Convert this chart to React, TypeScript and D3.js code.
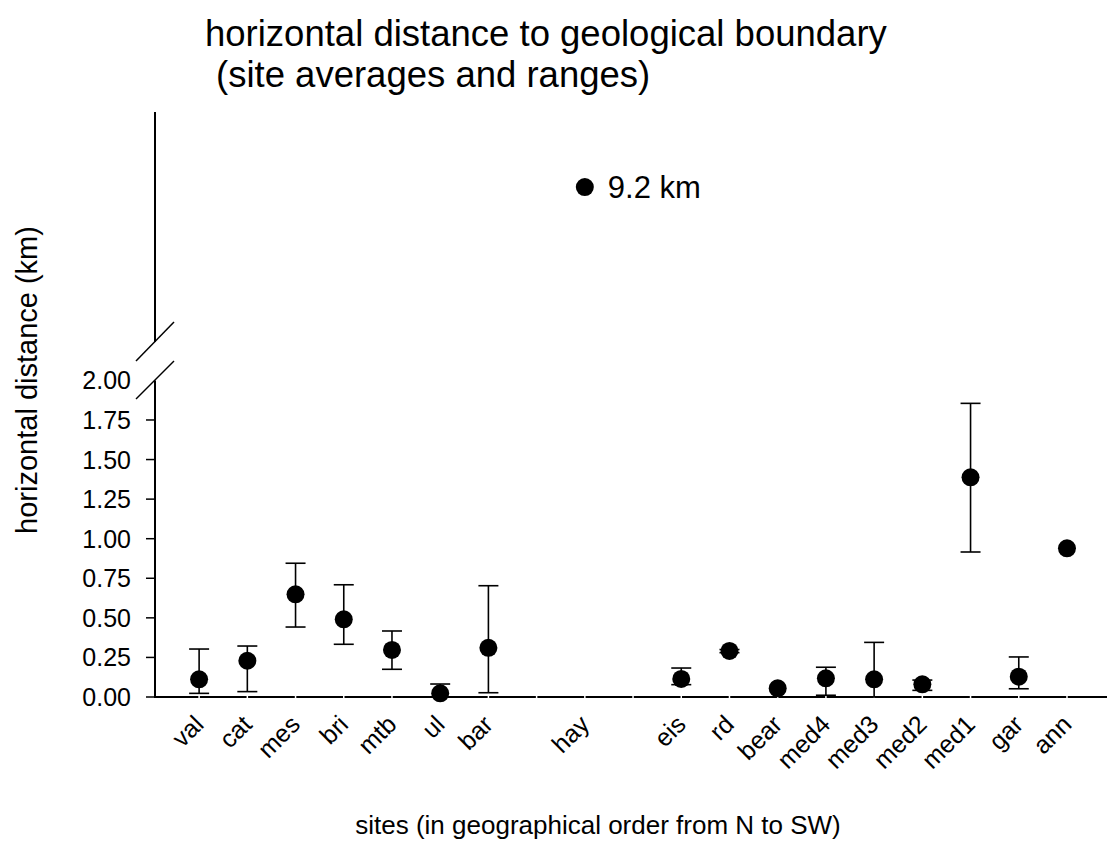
import React from "react";
import * as d3 from "d3";

const sites = ["val", "cat", "mes", "bri", "mtb", "ul", "bar", "", "hay", "", "eis", "rd", "bear", "med4", "med3", "med2", "med1", "gar", "ann"];
const means: (number | null)[] = [0.112, 0.229, 0.649, 0.491, 0.297, 0.023, 0.311, null, 9.2, null, 0.114, 0.291, 0.055, 0.118, 0.112, 0.080, 1.388, 0.128, 0.939];
const lows: (number | null)[] = [0.023, 0.034, 0.442, 0.333, 0.175, 0.0, 0.027, null, null, null, 0.078, 0.28, null, 0.011, 0.0, 0.042, 0.916, 0.052, null];
const highs: (number | null)[] = [0.303, 0.322, 0.845, 0.709, 0.417, 0.082, 0.703, null, null, null, 0.183, 0.30, null, 0.188, 0.345, 0.107, 1.855, 0.253, null];
const yTicks = [0, 0.25, 0.5, 0.75, 1.0, 1.25, 1.5, 1.75, 2.0];
const hayLabel = "9.2 km";

const FONT = "Liberation Sans, Arial, sans-serif";

export default function App() {
  const W = 1107, H = 852;
  const x = d3.scaleLinear().domain([-0.915, 18.83]).range([155, 1107]);
  const yLow = d3.scaleLinear().domain([0, 2]).range([697, 380.4]);
  const yHigh = d3.scaleLinear().domain([6, 10.75]).range([342, 112]);
  const y = (v: number) => (v > 2.5 ? yHigh(v) : yLow(v));
  const x0 = x(-0.915);

  return (
    <svg width={W} height={H} style={{ position: "absolute", left: 0, top: 0, background: "#fff" }} fontFamily={FONT}>
      <rect width={W} height={H} fill="#fff" />
      {/* title */}
      <text x={205} y={46} fontSize={36.5} fill="#000">horizontal distance to geological boundary</text>
      <text x={216} y={87} fontSize={36.5} fill="#000">(site averages and ranges)</text>

      {/* y axis label */}
      <text transform={`translate(37,380) rotate(-90)`} textAnchor="middle" fontSize={29} fill="#000">horizontal distance (km)</text>
      {/* x axis label */}
      <text x={598} y={834} textAnchor="middle" fontSize={26} fill="#000">sites (in geographical order from N to SW)</text>

      {/* y axis segments */}
      <line x1={x0} x2={x0} y1={yLow(0) + 1} y2={yLow(2)} stroke="#000" strokeWidth={2} />
      <line x1={x0} x2={x0} y1={yHigh(6)} y2={yHigh(10.75)} stroke="#000" strokeWidth={2} />
      {/* break slashes */}
      <line x1={136} y1={399} x2={174} y2={361} stroke="#000" strokeWidth={1.5} />
      <line x1={136} y1={361} x2={174} y2={322} stroke="#000" strokeWidth={1.5} />

      {yTicks.map((t) => (
        <g key={t}>
          {t < 2 && <line x1={x0 - 9} x2={x0} y1={yLow(t)} y2={yLow(t)} stroke="#000" strokeWidth={1.5} />}
          <text x={131} y={yLow(t)} dy="0.36em" textAnchor="end" fontSize={25} fill="#000">{t.toFixed(2)}</text>
        </g>
      ))}

      {/* x axis */}
      <line x1={x0} x2={1107} y1={yLow(0)} y2={yLow(0)} stroke="#000" strokeWidth={2} />
      {sites.map((s, i) => (
        <line key={"g" + i} x1={x(i)} x2={x(i)} y1={yLow(0) - 1.5} y2={yLow(0) + 1.5} stroke="#fff" strokeWidth={1.5} />
      ))}
      {sites.map((s, i) =>
        s ? (
          <text key={"l" + i} transform={`translate(${x(i) + 6},${726}) rotate(-45)`} textAnchor="end" fontSize={25} fill="#000">{s}</text>
        ) : null
      )}

      {/* error bars */}
      {sites.map((s, i) => {
        const lo = lows[i], hi = highs[i];
        if (lo == null || hi == null) return null;
        const cx = x(i);
        return (
          <g key={"e" + i} stroke="#000" strokeWidth={1.6}>
            <line x1={cx} x2={cx} y1={yLow(lo)} y2={yLow(hi)} />
            <line x1={cx - 10} x2={cx + 10} y1={yLow(lo)} y2={yLow(lo)} />
            <line x1={cx - 10} x2={cx + 10} y1={yLow(hi)} y2={yLow(hi)} />
          </g>
        );
      })}
      {/* points */}
      {sites.map((s, i) => {
        const m = means[i];
        if (m == null) return null;
        return <circle key={"p" + i} cx={x(i)} cy={y(m)} r={9} fill="#000" />;
      })}
      <text x={x(8) + 23} y={y(9.2)} dy="0.36em" fontSize={31} fill="#000">{hayLabel}</text>
    </svg>
  );
}
